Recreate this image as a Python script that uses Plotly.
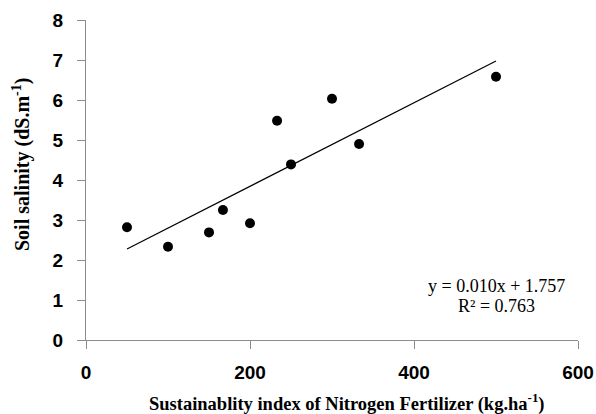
import numpy as np
import plotly.graph_objects as go

nitrogen_index = [50, 100, 150, 167, 200, 233, 250, 300, 333, 500]
soil_salinity = [2.82, 2.33, 2.69, 3.25, 2.92, 5.48, 4.39, 6.03, 4.90, 6.58]
x_ticks = [0, 200, 400, 600]
y_ticks = [0, 1, 2, 3, 4, 5, 6, 7, 8]
equation_lines = ["y = 0.010x + 1.757", "R² = 0.763"]
x_title = "Sustainablity index of Nitrogen Fertilizer (kg.ha<sup>-1</sup>)"
y_title = "Soil salinity (dS.m<sup>-1</sup>)"

slope, intercept = np.polyfit(nitrogen_index, soil_salinity, 1)
trend_x = [min(nitrogen_index), max(nitrogen_index)]
trend_y = [slope * v + intercept for v in trend_x]

fig = go.Figure()
fig.add_trace(go.Scatter(x=trend_x, y=trend_y, mode="lines",
                         line=dict(color="black", width=1.2), showlegend=False, hoverinfo="skip"))
fig.add_trace(go.Scatter(x=nitrogen_index, y=soil_salinity, mode="markers",
                         marker=dict(color="black", size=10), showlegend=False))

eq_font = dict(family="Liberation Serif", size=18, color="black")
fig.add_annotation(x=500, y=1.35, xref="x", yref="y", text=equation_lines[0], showarrow=False,
                   font=eq_font, xanchor="center", yanchor="middle")
fig.add_annotation(x=500, y=0.85, xref="x", yref="y", text=equation_lines[1], showarrow=False,
                   font=eq_font, xanchor="center", yanchor="middle")

fig.add_annotation(x=0.5315, y=-0.194, xref="paper", yref="paper", text="<b>" + x_title + "</b>",
                   showarrow=False, xanchor="center", yanchor="middle",
                   font=dict(family="Liberation Serif", size=18.5, color="black"))
fig.add_annotation(x=-0.13, y=0.547, xref="paper", yref="paper", text="<b>" + y_title + "</b>",
                   showarrow=False, xanchor="center", yanchor="middle", textangle=-90,
                   font=dict(family="Liberation Serif", size=20, color="black"))

axis_font = dict(family="Liberation Sans", size=19, color="black")
fig.update_layout(
    width=596, height=414,
    margin=dict(l=86, r=18, t=20, b=74, autoexpand=False),
    paper_bgcolor="white", plot_bgcolor="white",
    xaxis=dict(range=[0, 600], tickvals=x_ticks, ticktext=["<b>%d</b>" % v for v in x_ticks],
               showgrid=False, zeroline=False, automargin=False,
               showline=True, linecolor="#8c8c8c", linewidth=1,
               ticks="outside", ticklen=8, tickcolor="#8c8c8c",
               tickfont=axis_font, ticklabelstandoff=7),
    yaxis=dict(range=[0, 8], tickvals=y_ticks, ticktext=["<b>%d</b>" % v for v in y_ticks],
               showgrid=False, zeroline=False, automargin=False,
               showline=True, linecolor="#8c8c8c", linewidth=1,
               ticks="outside", ticklen=8, tickcolor="#8c8c8c",
               tickfont=axis_font, ticklabelstandoff=10),
)

fig.write_html("out.html", config={"displayModeBar": False},
               post_script="document.body.style.margin='0';document.body.style.overflow='hidden';")
